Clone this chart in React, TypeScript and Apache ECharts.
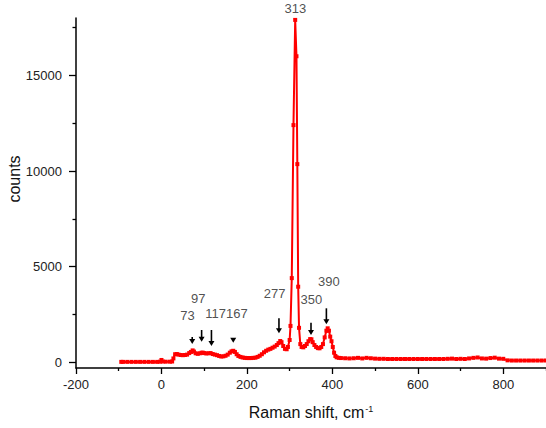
import React, { useEffect, useRef } from "react";
import * as echarts from "echarts";

const ramanShift = [
  -94, -90, -80, -70, -60, -50, -40, -30, -20, -10, -3, 0, 3, 10, 20, 25, 28, 32, 36, 40, 45, 50, 55, 60, 65, 69, 73,
  76, 80, 85, 90, 94, 97, 100, 105, 110, 115, 120, 125, 130, 135, 140, 145, 150, 155, 160, 164, 168, 172, 176, 180,
  185, 190, 195, 200, 205, 210, 215, 220, 225, 230, 235, 240, 245, 250, 255, 260, 265, 270, 274, 278, 281, 285, 289,
  293, 296, 300, 302, 305, 309, 313, 316, 318, 320, 322, 325, 328, 332, 336, 340, 344, 348, 351, 354, 358, 362, 366,
  370, 374, 378, 382, 386, 389, 392, 395, 398, 401, 404, 407, 410, 415, 420, 430, 440, 450, 460, 470, 480, 490, 500,
  510, 520, 530, 540, 550, 560, 570, 580, 590, 600, 610, 620, 630, 640, 650, 660, 670, 680, 690, 700, 710, 720, 730,
  740, 750, 760, 770, 780, 790, 800, 810, 820, 830, 840, 850, 860, 870, 880, 890, 900, 910,
];
const counts = [
  20, 20, 20, 20, 20, 20, 20, 20, 20, 20, 30, 120, 40, 30, 30, 40, 200, 420, 430, 400, 380, 370, 380, 400, 480, 540,
  620, 560, 470, 440, 470, 500, 500, 480, 460, 470, 480, 430, 400, 370, 330, 300, 310, 340, 400, 500, 570, 600, 540,
  420, 330, 280, 250, 230, 220, 220, 220, 230, 240, 280, 340, 420, 520, 600, 660, 700, 760, 820, 900, 1000, 1110,
  1050, 850, 700, 680, 800, 1165, 1900, 4400, 12400, 17900, 16000, 10360, 3950, 1800, 950, 800, 780, 850, 950, 1100,
  1210, 1200, 1050, 900, 800, 740, 730, 800, 950, 1300, 1650, 1775, 1650, 1340, 1100, 800, 500, 330, 260, 230, 220,
  210, 200, 210, 230, 200, 230, 210, 190, 180, 180, 170, 170, 170, 170, 170, 170, 170, 170, 170, 170, 170, 170, 170,
  170, 180, 190, 170, 180, 170, 200, 230, 250, 200, 190, 220, 240, 190, 180, 100, 90, 90, 90, 90, 90, 90, 90, 90, 90,
  90,
];

const peakLabels = ["73", "97", "117", "167", "277", "313", "350", "390"];
const peakLabelX = [60.8, 86.1, 126.8, 176.6, 264.8, 313.4, 350.9, 391.8];
const peakLabelY = [2471, 3344, 2560, 2560, 3605, 18512, 3307, 4211];

const arrowX = [72, 94, 117, 168, 275, 350, 386];
const arrowTip = [956, 1076, 852, 1024, 1515, 1426, 1985];
const arrowTop = [1322, 1688, 1688, 1254, 2299, 2069, 2821];

const xLabelValues = [-200, 0, 200, 400, 600, 800];
const xMinorTicks = [-100, 100, 300, 500, 700, 900];
const yLabelValues = [0, 5000, 10000, 15000];
const yMinorTicks = [2500, 7500, 12500, 17500];

const FONT = "Arial, 'Liberation Sans', sans-serif";

export default function App() {
  const ref = useRef<HTMLDivElement>(null);
  useEffect(() => {
    if (!ref.current) return;
    const chart = echarts.init(ref.current, undefined, { renderer: "svg" });
    const spectrum = ramanShift.map((x, i) => [x, counts[i]]);
    const labels = peakLabels.map((t, i) => ({ name: t, value: [peakLabelX[i], peakLabelY[i]] }));
    const arrows = arrowX.map((x, i) => [x, arrowTip[i], arrowTop[i]]);
    const axisCommon = {
      type: "value" as const,
      splitLine: { show: false },
    };
    const plain = (v: number) => String(v);
    chart.setOption({
      animation: false,
      grid: { left: 76, right: 0, top: 18, bottom: 60, containLabel: false },
      xAxis: [
        {
          ...axisCommon,
          min: -200,
          max: 900,
          position: "bottom",
          name: "Raman shift, cm{sup|-1}",
          nameLocation: "middle",
          nameGap: 36,
          nameTextStyle: {
            fontSize: 16,
            color: "#111",
            fontFamily: FONT,
            rich: { sup: { fontSize: 9, color: "#111", fontFamily: FONT, verticalAlign: "top", padding: [0, 0, 8, 1] } },
          },
          axisLine: { show: true, onZero: false, lineStyle: { color: "#000", width: 1.5 } },
          axisTick: { show: true, length: 6, customValues: xLabelValues, lineStyle: { color: "#000", width: 1.3 } },
          axisLabel: { customValues: xLabelValues, formatter: plain, margin: 10, fontSize: 13, color: "#222", fontFamily: FONT },
        },
        {
          ...axisCommon,
          min: -200,
          max: 900,
          position: "bottom",
          axisLine: { show: false, onZero: false },
          axisTick: { show: true, length: 3, customValues: xMinorTicks, lineStyle: { color: "#000", width: 1.3 } },
          axisLabel: { show: false },
        },
      ],
      yAxis: [
        {
          ...axisCommon,
          min: -300,
          max: 18000,
          position: "left",
          axisLine: { show: true, onZero: false, lineStyle: { color: "#000", width: 1.5 } },
          axisTick: { show: true, length: 7, customValues: yLabelValues, lineStyle: { color: "#000", width: 1.3 } },
          axisLabel: { customValues: yLabelValues, formatter: plain, margin: 14, fontSize: 13, color: "#222", fontFamily: FONT },
        },
        {
          ...axisCommon,
          min: -300,
          max: 18000,
          position: "left",
          axisLine: { show: false, onZero: false },
          axisTick: { show: true, length: 3.5, customValues: yMinorTicks, lineStyle: { color: "#000", width: 1.3 } },
          axisLabel: { show: false },
        },
      ],
      graphic: [
        {
          type: "text",
          x: 14,
          y: 179,
          rotation: Math.PI / 2,
          style: {
            text: "counts",
            fontSize: 16,
            fontFamily: FONT,
            fill: "#111",
            align: "center",
            verticalAlign: "middle",
          },
        },
      ],
      series: [
        {
          type: "line",
          data: spectrum,
          xAxisIndex: 0,
          yAxisIndex: 0,
          symbol: "rect",
          symbolSize: 4,
          showSymbol: true,
          lineStyle: { color: "#ff0000", width: 2 },
          itemStyle: { color: "#ff0000" },
          silent: true,
          z: 2,
        },
        {
          type: "custom",
          xAxisIndex: 0,
          yAxisIndex: 0,
          data: arrows,
          silent: true,
          z: 3,
          renderItem: (params: any, api: any) => {
            const tip = api.coord([api.value(0), api.value(1)]);
            const top = api.coord([api.value(0), api.value(2)]);
            const hh = 5;
            const hw = 3;
            return {
              type: "group",
              children: [
                {
                  type: "line",
                  shape: { x1: tip[0], y1: top[1], x2: tip[0], y2: tip[1] - hh + 1 },
                  style: { stroke: "#000", lineWidth: 1.6 },
                },
                {
                  type: "polygon",
                  shape: {
                    points: [
                      [tip[0] - hw, tip[1] - hh],
                      [tip[0] + hw, tip[1] - hh],
                      [tip[0], tip[1]],
                    ],
                  },
                  style: { fill: "#000" },
                },
              ],
            };
          },
        },
        {
          type: "scatter",
          xAxisIndex: 0,
          yAxisIndex: 0,
          data: labels,
          symbolSize: 0,
          clip: false,
          silent: true,
          itemStyle: { color: "rgba(0,0,0,0)" },
          label: {
            show: true,
            position: "inside",
            formatter: (p: any) => p.name,
            fontSize: 13,
            color: "#222",
            fontFamily: FONT,
          },
          z: 4,
        },
      ],
    });
    return () => chart.dispose();
  }, []);
  return <div ref={ref} style={{ position: "fixed", left: 0, top: 0, width: 546, height: 428, background: "#fff" }} />;
}
